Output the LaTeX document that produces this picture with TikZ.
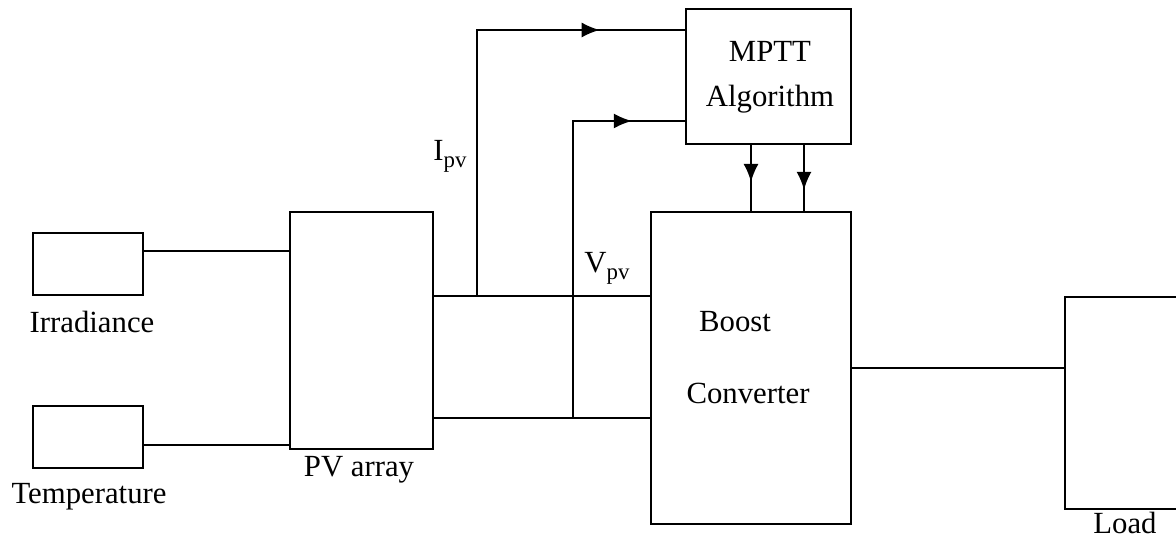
\documentclass[tikz,border=0pt]{standalone}
\usepackage{fontspec}
\setmainfont{Liberation Serif}
\usetikzlibrary{arrows.meta, decorations.markings}

\newcommand{\pvsub}[1]{#1\raisebox{-0.5ex}{\fontsize{13}{13}\selectfont pv}}

\begin{document}
\begin{tikzpicture}[
    >={Latex[length=3.6mm, width=3mm]}, % Filled arrow tips
    block/.style={draw, line width=1.1pt, inner sep=0pt}, % Style for boxes
    wire/.style={line width=1.1pt},
    txt/.style={font=\fontsize{17.5}{22}\selectfont, inner sep=0pt, align=center},
    midarrow/.style={postaction={decorate, decoration={markings, mark=at position #1 with {\arrow{>}}}}}
]
\useasboundingbox (0,0) rectangle (23.52,-10.78);

% Blocks
\node[block, minimum width=2.2cm, minimum height=1.24cm] (irr) at (1.76,-5.28) {};
\node[block, minimum width=2.2cm, minimum height=1.24cm] (temp) at (1.76,-8.74) {};
\node[block, minimum width=2.86cm, minimum height=4.74cm] (pv) at (7.23,-6.61) {};
\node[block, minimum width=4cm, minimum height=6.24cm] (boost) at (15.02,-7.36) {};
\node[block, minimum width=3.3cm, minimum height=2.7cm] (mptt) at (15.37,-1.53) {};
\node[block, minimum width=2.6cm, minimum height=4.24cm] (load) at (22.6,-8.06) {};

% Texts
\node[txt] (irrlbl) at (1.84,-6.44) {Irradiance};
\node[txt] (templbl) at (1.78,-9.94) {Temperature};
\node[txt] (pvlbl) at (7.18,-9.4) {PV array};
\node[txt] (loadlbl) at (22.5,-10.46) {Load};
\node[txt] (boostlbl) at (14.7,-6.44) {Boost};
\node[txt] (convlbl) at (14.96,-7.86) {Converter};
\node[txt] (mpttlbl) at (15.4,-1.55) {MPTT\\[0.12cm]Algorithm};
\node[txt] (ipv) at (9.0,-3.12) {\pvsub{I}};
\node[txt] (vpv) at (12.14,-5.36) {\pvsub{V}};

% Sensor inputs to PV array
\draw[wire] ([yshift=0.26cm]irr.east) -- ([yshift=0.26cm]irr.east -| pv.west);
\draw[wire] ([yshift=-0.16cm]temp.east) -- ([yshift=-0.16cm]temp.east -| pv.west);

% PV array to converter
\draw[wire] ([yshift=0.69cm]pv.east) -- ([yshift=0.69cm]pv.east -| boost.west);
\draw[wire] ([yshift=-1.75cm]pv.east) -- ([yshift=-1.75cm]pv.east -| boost.west);

% Measured current and voltage
\coordinate (ij) at (9.54,-5.92);
\coordinate (vj) at (11.46,-8.36);
\draw[wire, midarrow=0.82] (ij) -- (9.54,-0.6) -- (9.54,-0.6 -| mptt.west);
\draw[wire, midarrow=0.87] (vj) -- (11.46,-2.42) -- (11.46,-2.42 -| mptt.west);

% Duty signals
\draw[wire, midarrow=0.56] ([xshift=-0.35cm]mptt.south) -- ([xshift=-0.35cm]mptt.south |- boost.north);
\draw[wire, midarrow=0.68] ([xshift=0.71cm]mptt.south) -- ([xshift=0.71cm]mptt.south |- boost.north);

% Converter to load
\draw[wire] (boost.east) -- (boost.east -| load.west);

\end{tikzpicture}
\end{document}
